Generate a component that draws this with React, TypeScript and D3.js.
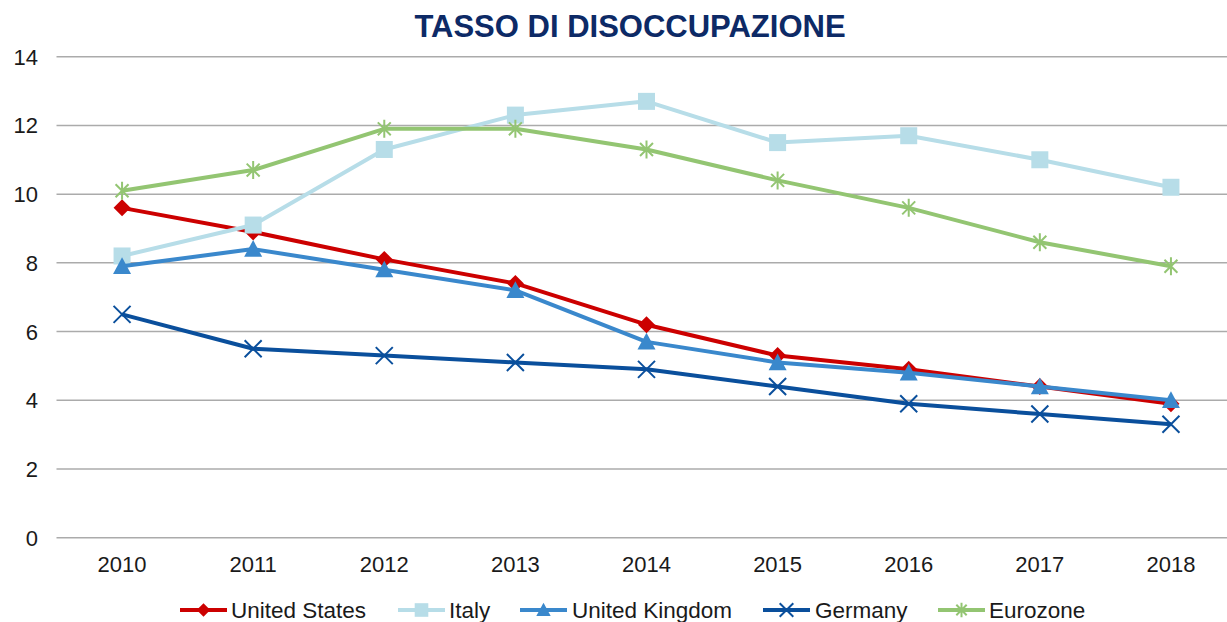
import React from "react";
import * as d3 from "d3";

const years = ["2010", "2011", "2012", "2013", "2014", "2015", "2016", "2017", "2018"];
const unitedStates = [9.6, 8.9, 8.1, 7.4, 6.2, 5.3, 4.9, 4.4, 3.9];
const italy = [8.2, 9.1, 11.3, 12.3, 12.7, 11.5, 11.7, 11.0, 10.2];
const unitedKingdom = [7.9, 8.4, 7.8, 7.2, 5.7, 5.1, 4.8, 4.4, 4.0];
const germany = [6.5, 5.5, 5.3, 5.1, 4.9, 4.4, 3.9, 3.6, 3.3];
const eurozone = [10.1, 10.7, 11.9, 11.9, 11.3, 10.4, 9.6, 8.6, 7.9];
const yTicks = [0, 2, 4, 6, 8, 10, 12, 14];

const series = [
  { name: "United States", values: unitedStates, color: "#cc0000", marker: "diamond" },
  { name: "Italy", values: italy, color: "#b7dde8", marker: "square" },
  { name: "United Kingdom", values: unitedKingdom, color: "#3a88cc", marker: "triangle" },
  { name: "Germany", values: germany, color: "#0a4f9c", marker: "x" },
  { name: "Eurozone", values: eurozone, color: "#93c572", marker: "star" },
];

const W = 1227;
const H = 622;
const FONT = "'Liberation Sans', Arial, sans-serif";

function Marker({ type, x, y, color, s = 1 }: { type: string; x: number; y: number; color: string; s?: number }) {
  if (type === "diamond") {
    const r = 8.5 * s;
    return <path d={`M${x},${y - r}L${x + r},${y}L${x},${y + r}L${x - r},${y}Z`} fill={color} />;
  }
  if (type === "square") {
    const r = 8.5 * s;
    return <rect x={x - r} y={y - r} width={2 * r} height={2 * r} fill={color} />;
  }
  if (type === "triangle") {
    const r = 9 * s;
    return <path d={`M${x},${y - r}L${x + r},${y + r * 0.85}L${x - r},${y + r * 0.85}Z`} fill={color} />;
  }
  if (type === "x") {
    const r = 8.5 * s;
    return (
      <path
        d={`M${x - r},${y - r}L${x + r},${y + r}M${x - r},${y + r}L${x + r},${y - r}`}
        stroke={color}
        strokeWidth={2}
        fill="none"
      />
    );
  }
  const r = 9 * s;
  const d = r * 0.72;
  return (
    <path
      d={`M${x - d},${y - d}L${x + d},${y + d}M${x - d},${y + d}L${x + d},${y - d}M${x},${y - r}L${x},${y + r}`}
      stroke={color}
      strokeWidth={2}
      fill="none"
    />
  );
}

export default function App() {
  const left = 56.5;
  const right = 1236.5;
  const top = 56.7;
  const bottom = 537.7;

  const x = d3.scaleBand<string>().domain(years).range([left, right]);
  const y = d3.scaleLinear().domain([0, 14]).range([bottom, top]);
  const cx = (yr: string) => (x(yr) as number) + x.bandwidth() / 2;

  const line = d3
    .line<number>()
    .x((_, i) => cx(years[i]))
    .y((v) => y(v));

  const legendPos = [
    { lx: 180, tx: 231 },
    { lx: 398, tx: 449 },
    { lx: 520, tx: 572 },
    { lx: 763, tx: 815 },
    { lx: 938, tx: 989 },
  ];

  return (
    <svg
      width={W}
      height={H}
      style={{ position: "absolute", left: 0, top: 0, background: "#fff" }}
      fontFamily={FONT}
    >
      <rect x={0} y={0} width={W} height={H} fill="#fff" />
      <text x={630} y={37} textAnchor="middle" fontSize={31} fontWeight="bold" fill="#0d2a66">
        TASSO DI DISOCCUPAZIONE
      </text>
      {yTicks.map((t) => (
        <g key={t}>
          <line x1={left} x2={W} y1={y(t)} y2={y(t)} stroke="#ababab" strokeWidth={1.5} />
          <text x={38} y={y(t) + 8} textAnchor="end" fontSize={22} fill="#1a1a1a">
            {t}
          </text>
        </g>
      ))}
      {years.map((yr) => (
        <text key={yr} x={cx(yr)} y={572} textAnchor="middle" fontSize={22} fill="#1a1a1a">
          {yr}
        </text>
      ))}
      {series.map((s) => (
        <g key={s.name}>
          <path d={line(s.values) || ""} fill="none" stroke={s.color} strokeWidth={4} strokeLinejoin="round" />
          {s.values.map((v, i) => (
            <Marker key={i} type={s.marker} x={cx(years[i])} y={y(v)} color={s.color} />
          ))}
        </g>
      ))}
      {series.map((s, i) => {
        const p = legendPos[i];
        const ly = 610;
        return (
          <g key={"l" + s.name}>
            <line x1={p.lx} x2={p.lx + 47} y1={ly} y2={ly} stroke={s.color} strokeWidth={4} />
            <Marker type={s.marker} x={p.lx + 23.5} y={ly} color={s.color} s={0.8} />
            <text x={p.tx} y={618} fontSize={22.5} fill="#1a1a1a">
              {s.name}
            </text>
          </g>
        );
      })}
    </svg>
  );
}
